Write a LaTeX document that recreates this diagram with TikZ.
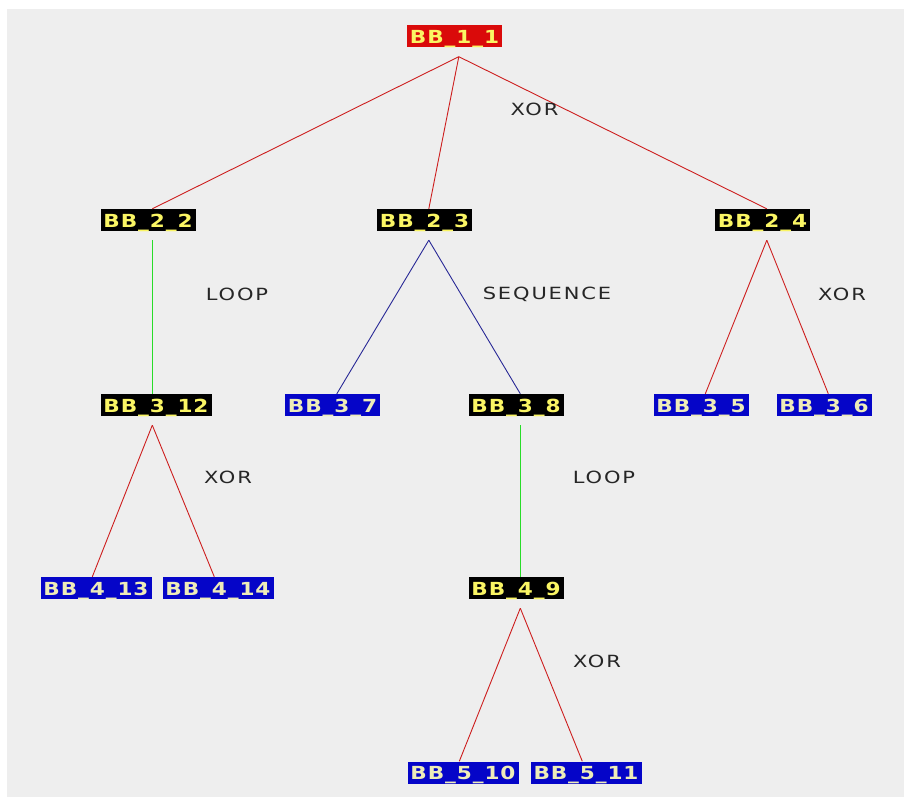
\documentclass[tikz,border=0pt]{standalone}
\usepackage{fontspec}
\setmainfont{DejaVu Sans}
\newfontfamily\boxfont[FakeStretch=1.2,LetterSpace=5]{DejaVu Sans}
\newfontfamily\labelfont[FakeStretch=1.25,LetterSpace=11]{DejaVu Sans}
\definecolor{bggray}{RGB}{238,238,238}
\definecolor{bbred}{RGB}{218,10,10}
\definecolor{bbblue}{RGB}{5,5,200}
\definecolor{bbtext}{RGB}{250,245,100}
\definecolor{bbpale}{RGB}{238,236,185}
\definecolor{xorline}{RGB}{205,30,30}
\definecolor{loopline}{RGB}{40,220,40}
\definecolor{seqline}{RGB}{40,40,150}
\tikzset{
  bb/.style={rectangle, inner xsep=0pt, inner ysep=0pt, text height=18pt, text depth=4pt,
    minimum width=95pt, text=bbtext, font=\boxfont\bfseries\fontsize{18}{18}\selectfont},
  bbwide/.style={bb, minimum width=111pt},
  rootbox/.style={fill=bbred},
  blackbox/.style={fill=black},
  bluebox/.style={fill=bbblue, text=bbpale},
  oplabel/.style={font=\labelfont\fontsize{16.8}{16.8}\selectfont, text=black!85},
  xoredge/.style={draw=xorline, line width=0.9pt},
  loopedge/.style={draw=loopline, line width=0.9pt},
  seqedge/.style={draw=seqline, line width=0.9pt},
}
\begin{document}
\begin{tikzpicture}[x=1pt, y=-1pt]
  % canvas
  \fill[white] (0,0) rectangle (904,797);
  \fill[bggray] (7,9) rectangle (904,797);
  \useasboundingbox (0,0) rectangle (904,797);

  % tree nodes
  \node[bb, rootbox]   (n11)  at (454.5,36.5) {BB\_1\_1};
  \node[bb, blackbox]  (n22)  at (148,220)    {BB\_2\_2};
  \node[bb, blackbox]  (n23)  at (424.5,220)  {BB\_2\_3};
  \node[bb, blackbox]  (n24)  at (762.5,220)  {BB\_2\_4};
  \node[bbwide, blackbox] (n312) at (156,405) {BB\_3\_12};
  \node[bb, bluebox]   (n37)  at (332.5,405)  {BB\_3\_7};
  \node[bb, blackbox]  (n38)  at (516,405)    {BB\_3\_8};
  \node[bb, bluebox]   (n35)  at (701,405)    {BB\_3\_5};
  \node[bb, bluebox]   (n36)  at (824,405)    {BB\_3\_6};
  \node[bbwide, bluebox] (n413) at (96,588)   {BB\_4\_13};
  \node[bbwide, bluebox] (n414) at (218,588)  {BB\_4\_14};
  \node[bb, blackbox]  (n49)  at (516,588)    {BB\_4\_9};
  \node[bbwide, bluebox] (n510) at (463,772.5) {BB\_5\_10};
  \node[bbwide, bluebox] (n511) at (586,772.5) {BB\_5\_11};

  % branch points just below each parent
  \foreach \p in {n11,n22,n23,n24,n312,n38,n49}
    \coordinate (\p-fork) at ([xshift=52pt,yshift=-9pt]\p.south west);
  % landing points on top of each child
  \foreach \c in {n22,n23,n24,n312,n37,n38,n35,n36,n413,n414,n49,n510,n511}
    \coordinate (\c-top) at ([xshift=52pt]\c.north west);

  % connectors
  \draw[xoredge] (n11-fork) -- (n22-top);
  \draw[xoredge] (n11-fork) -- (n23-top);
  \draw[xoredge] (n11-fork) -- (n24-top);
  \draw[loopedge] (n22-fork) -- (n312-top);
  \draw[seqedge] (n23-fork) -- (n37-top);
  \draw[seqedge] (n23-fork) -- (n38-top);
  \draw[xoredge] (n24-fork) -- (n35-top);
  \draw[xoredge] (n24-fork) -- (n36-top);
  \draw[xoredge] (n312-fork) -- (n413-top);
  \draw[xoredge] (n312-fork) -- (n414-top);
  \draw[loopedge] (n38-fork) -- (n49-top);
  \draw[xoredge] (n49-fork) -- (n510-top);
  \draw[xoredge] (n49-fork) -- (n511-top);

  % operator labels
  \node[oplabel] (op11)  at (534.5,109) {XOR};
  \node[oplabel] (op22)  at (237,294) {LOOP};
  \node[oplabel] (op23)  at (547,294) {SEQUENCE};
  \node[oplabel] (op24)  at (842,294) {XOR};
  \node[oplabel] (op312) at (228,477) {XOR};
  \node[oplabel] (op38)  at (604,477) {LOOP};
  \node[oplabel] (op49)  at (597,661) {XOR};
\end{tikzpicture}
\end{document}
